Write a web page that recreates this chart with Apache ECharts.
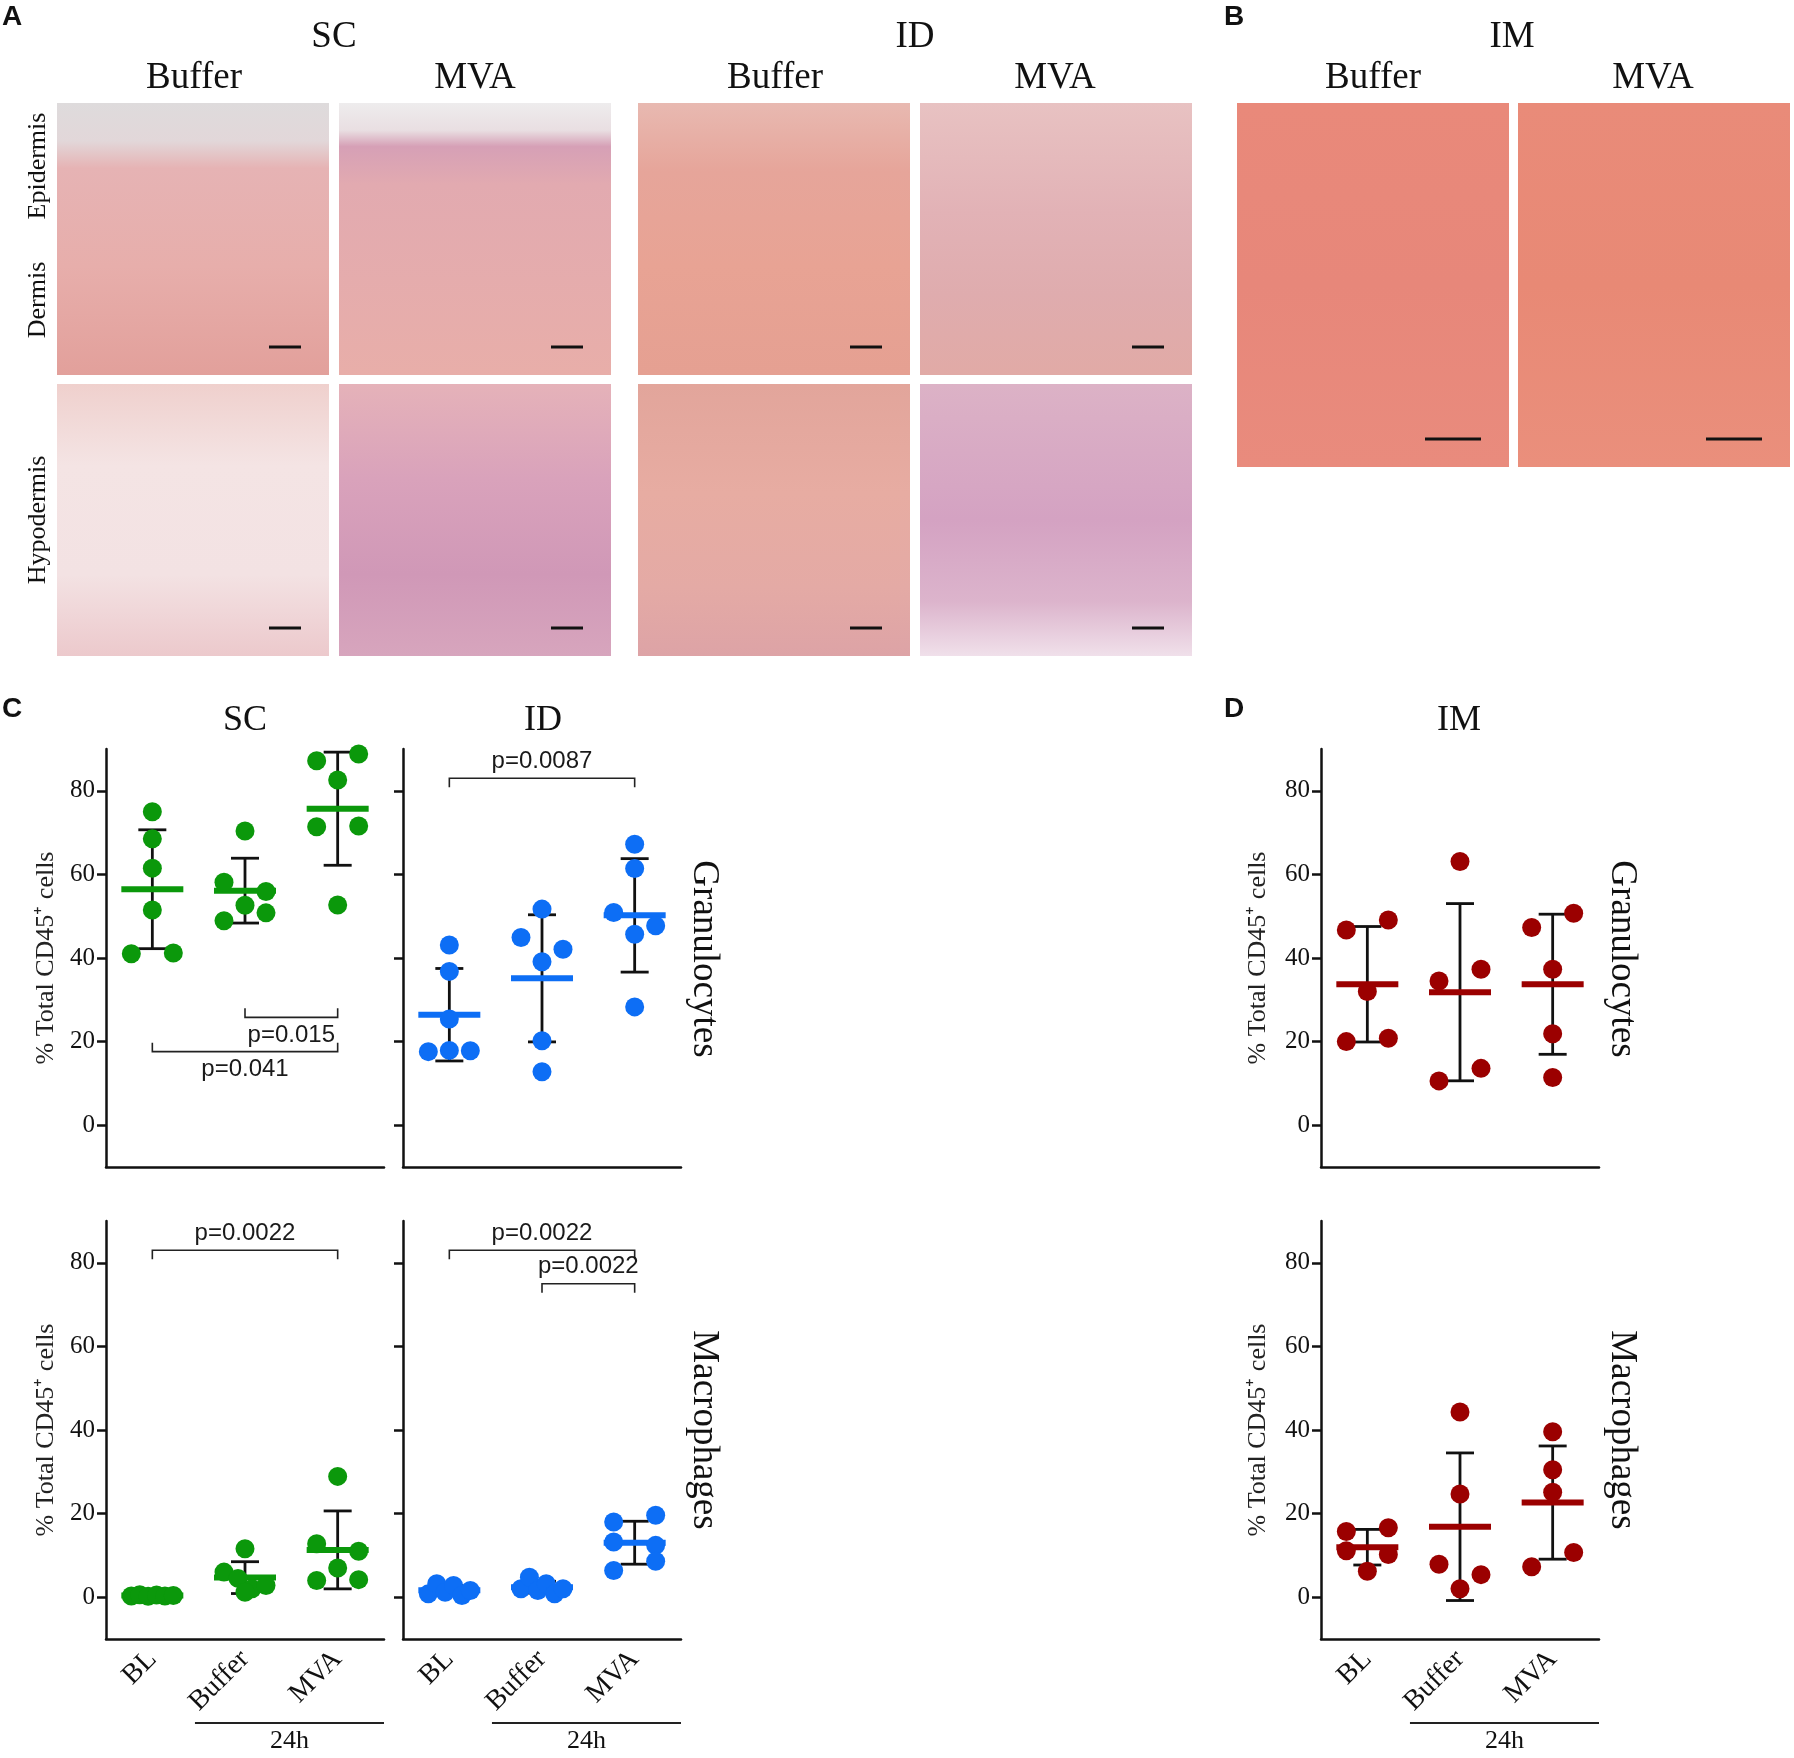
<!DOCTYPE html>
<html>
<head>
<meta charset="utf-8">
<script src="https://cdn.jsdelivr.net/npm/echarts@6.0.0/dist/echarts.min.js"></script>
<style>
html, body { margin: 0; padding: 0; background: #fff; }
#chart { width: 1794px; height: 1758px; }
</style>
</head>
<body>
<div id="chart"></div>
<script>
//Groups and y ticks shared by every panel
const groups = ["BL", "Buffer", "MVA"];
const yTicks = [0, 20, 40, 60, 80];

//% Total CD45+ cells - granulocytes
const scGranBL = [75.0, 68.5, 61.5, 51.5, 41.0, 41.2];
const scGranBuffer = [70.4, 58.1, 55.9, 48.9, 52.6, 50.8];
const scGranMVA = [87.2, 88.8, 82.6, 71.4, 71.6, 52.7];
const idGranBL = [43.1, 36.8, 25.4, 17.6, 17.9, 17.8];
const idGranBuffer = [51.7, 44.9, 42.1, 39.1, 20.2, 12.8];
const idGranMVA = [67.2, 61.4, 50.9, 47.7, 45.7, 28.3];
const imGranBL = [46.7, 49.1, 32.0, 20.0, 20.8];
const imGranBuffer = [63.1, 34.5, 37.3, 10.6, 13.6];
const imGranMVA = [47.3, 50.7, 37.3, 21.9, 11.4];

//% Total CD45+ cells - macrophages
const scMacBL = [0.3, 0.6, 0.2, 0.5, 0.3, 0.4];
const scMacBuffer = [11.6, 6.0, 4.5, 2.0, 2.8, 1.2];
const scMacMVA = [28.9, 12.8, 11.0, 4.0, 7.0, 4.2];
const idMacBL = [0.8, 3.2, 1.2, 2.8, 0.4, 1.6];
const idMacBuffer = [2.0, 4.8, 1.6, 3.2, 0.8, 2.0];
const idMacMVA = [18.0, 19.6, 13.2, 12.4, 6.4, 8.6];
const imMacBL = [15.7, 16.6, 11.1, 10.2, 6.2];
const imMacBuffer = [44.3, 24.7, 7.9, 5.4, 2.0];
const imMacMVA = [39.6, 30.5, 25.1, 7.3, 10.7];

//Significance brackets: [from, to, bracket height, label]
const scGranTests = [["Buffer", "MVA", 25.8, "p=0.015"], ["BL", "MVA", 17.6, "p=0.041"]];
const idGranTests = [["BL", "MVA", 83.0, "p=0.0087"]];
const scMacTests = [["BL", "MVA", 83.0, "p=0.0022"]];
const idMacTests = [["BL", "MVA", 83.0, "p=0.0022"], ["Buffer", "MVA", 75.0, "p=0.0022"]];

//Styling
const GREEN = "#0b980b";
const BLUE = "#0d6ef5";
const RED = "#9b0000";
const INK = "#111111";
const SERIF = "Liberation Serif";
const SANS = "Liberation Sans";
const GRID_W = 278;
const GRID_H = 418;
const Y_MIN = -10;
const Y_MAX = 90;
const DOT = 19;
const STEP = 21;
const PX_PER_UNIT = GRID_H / (Y_MAX - Y_MIN);

let panels = [
	{ left: 106, top: 749, color: GREEN, values: [scGranBL, scGranBuffer, scGranMVA], tests: scGranTests, yLabels: true, xLabels: false, nameGap: 47 },
	{ left: 403, top: 749, color: BLUE, values: [idGranBL, idGranBuffer, idGranMVA], tests: idGranTests, yLabels: false, xLabels: false, nameGap: 47 },
	{ left: 1321, top: 749, color: RED, values: [imGranBL, imGranBuffer, imGranMVA], tests: [], yLabels: true, xLabels: false, nameGap: 50 },
	{ left: 106, top: 1221, color: GREEN, values: [scMacBL, scMacBuffer, scMacMVA], tests: scMacTests, yLabels: true, xLabels: true, nameGap: 47 },
	{ left: 403, top: 1221, color: BLUE, values: [idMacBL, idMacBuffer, idMacMVA], tests: idMacTests, yLabels: false, xLabels: true, nameGap: 47 },
	{ left: 1321, top: 1221, color: RED, values: [imMacBL, imMacBuffer, imMacMVA], tests: [], yLabels: true, xLabels: true, nameGap: 50 }
];

function getMean (arr) {
	return arr.reduce((a, b) => a + b, 0)/arr.length;
}

function getSD (arr) {
	let mean = getMean(arr);
	return Math.sqrt(arr.reduce((a, b) => a + (b - mean)*(b - mean), 0)/(arr.length - 1));
}

//Spread dots that would overlap vertically into rows, centred on the group
function getSwarmOffsets (arr) {
	let order = arr.map((v, i) => i).sort((a, b) => arr[b] - arr[a]);
	let rows = [];
	let offsets = arr.map(() => 0);

	order.forEach((i) => {
		let row = rows[rows.length - 1];
		if (row && (arr[row[0]] - arr[i])*PX_PER_UNIT < DOT) {
			row.push(i);
		} else {
			rows.push([i]);
		}
	});
	rows.forEach((row) => {
		row.sort((a, b) => a - b);
		row.forEach((idx, k) => {
			offsets[idx] = (row.length === 1) ? 0 : -STEP + 2*STEP*k/(row.length - 1);
		});
	});

	return offsets;
}

let grids = [];
let xAxes = [];
let yAxes = [];
let series = [];

panels.forEach((panel, p) => {
	grids.push({ left: panel.left, top: panel.top, width: GRID_W, height: GRID_H });
	xAxes.push({
		gridIndex: p,
		type: "category",
		data: groups,
		axisLine: { onZero: false, lineStyle: { color: INK, width: 2.5 } },
		axisTick: { alignWithLabel: true, length: 9, lineStyle: { color: INK, width: 2.5 } },
		axisLabel: {
			show: panel.xLabels, rotate: 45, margin: 16, interval: 0,
			fontFamily: SERIF, fontSize: 28, color: INK
		},
		splitLine: { show: false }
	});
	yAxes.push({
		gridIndex: p,
		type: "value",
		min: Y_MIN,
		max: Y_MAX,
		interval: 10,
		name: (panel.yLabels) ? "% Total CD45\u207A cells" : "",
		nameLocation: "middle",
		nameGap: panel.nameGap,
		nameRotate: 90,
		nameTextStyle: { fontFamily: SERIF, fontSize: 26, color: "#222" },
		axisLine: { show: true, lineStyle: { color: INK, width: 2.5 } },
		axisTick: { show: true, customValues: yTicks, length: 9, lineStyle: { color: INK, width: 2.5 } },
		axisLabel: {
			show: panel.yLabels, margin: 11,
			fontFamily: SERIF, fontSize: 25, color: INK,
			formatter: (v) => (yTicks.indexOf(v) !== -1) ? String(v) : ""
		},
		splitLine: { show: false }
	});

	//Mean +/- SD
	series.push({
		type: "custom",
		xAxisIndex: p,
		yAxisIndex: p,
		z: 2,
		silent: true,
		data: panel.values.map((arr, g) => {
			let mean = getMean(arr);
			let sd = getSD(arr);
			return [g, mean, mean - sd, mean + sd];
		}),
		renderItem: (params, api) => {
			let g = api.value(0);
			let m = api.coord([g, api.value(1)]);
			let lo = api.coord([g, api.value(2)]);
			let hi = api.coord([g, api.value(3)]);
			let bar = { stroke: INK, lineWidth: 2.8 };

			return {
				type: "group",
				children: [
					{ type: "line", shape: { x1: m[0], y1: hi[1], x2: m[0], y2: lo[1] }, style: bar },
					{ type: "line", shape: { x1: m[0] - 14, y1: hi[1], x2: m[0] + 14, y2: hi[1] }, style: bar },
					{ type: "line", shape: { x1: m[0] - 14, y1: lo[1], x2: m[0] + 14, y2: lo[1] }, style: bar },
					{ type: "line", shape: { x1: m[0] - 31, y1: m[1], x2: m[0] + 31, y2: m[1] }, style: { stroke: panel.color, lineWidth: 6 } }
				]
			};
		}
	});

	//Individual animals
	let dots = [];
	panel.values.forEach((arr, g) => {
		let offsets = getSwarmOffsets(arr);
		arr.forEach((v, i) => dots.push({ value: [g, v], symbolOffset: [offsets[i], 0] }));
	});
	series.push({
		type: "scatter",
		xAxisIndex: p,
		yAxisIndex: p,
		z: 3,
		silent: true,
		symbol: "circle",
		symbolSize: DOT,
		itemStyle: { color: panel.color, opacity: 1 },
		data: dots
	});

	//Brackets with p values
	if (panel.tests.length) {
		let tests = panel.tests.map((t) => {
			let from = groups.indexOf(t[0]);
			let to = groups.indexOf(t[1]);
			let lowest_mean = Math.min(getMean(panel.values[from]), getMean(panel.values[to]));
			return { from: from, to: to, y: t[2], label: t[3], up: t[2] < lowest_mean };
		});
		series.push({
			type: "custom",
			xAxisIndex: p,
			yAxisIndex: p,
			z: 4,
			silent: true,
			data: tests.map((t) => [t.from, t.y]),
			renderItem: (params, api) => {
				let t = tests[params.dataIndex];
				let a = api.coord([t.from, t.y]);
				let b = api.coord([t.to, t.y]);
				let leg = (t.up) ? -9 : 9;

				return {
					type: "group",
					children: [
						{
							type: "polyline",
							shape: { points: [[a[0], a[1] + leg], [a[0], a[1]], [b[0], b[1]], [b[0], b[1] + leg]] },
							style: { stroke: "#222", lineWidth: 1.6, fill: null }
						},
						{
							type: "text",
							x: (a[0] + b[0])/2,
							y: (t.up) ? a[1] + 18 : a[1] - 17,
							style: {
								text: t.label, fill: "#1a1a1a", font: "24px " + SANS,
								align: "center", verticalAlign: "middle"
							}
						}
					]
				};
			}
		});
	}
});

//Histology panels are photographs: shown as flat tissue-coloured tiles
function tile (x, y, w, h, stops, barLength) {
	return [
		{
			type: "rect",
			shape: { x: x, y: y, width: w, height: h },
			style: { fill: new echarts.graphic.LinearGradient(0, 0, 0, 1, stops.map((s) => ({ offset: s[0], color: s[1] }))) },
			silent: true
		},
		{
			type: "line",
			shape: { x1: x + w - 28 - barLength, y1: y + h - 28, x2: x + w - 28, y2: y + h - 28 },
			style: { stroke: "#111", lineWidth: 3 },
			silent: true
		}
	];
}

function label (text, x, y, size, options) {
	let local_options = (options) ? options : {};
	return {
		type: "text",
		x: x,
		y: y,
		rotation: (local_options.rotation) ? local_options.rotation : 0,
		silent: true,
		style: {
			text: text,
			fill: INK,
			font: ((local_options.bold) ? "bold " : "") + size + "px '" + ((local_options.sans) ? SANS : SERIF) + "'",
			align: (local_options.align) ? local_options.align : "center",
			verticalAlign: "middle"
		}
	};
}

let elements = [].concat(
	tile(57, 103, 272, 272, [[0, "#dedbdc"], [0.14, "#e2d7d9"], [0.24, "#e6b3b4"], [0.6, "#e7aeab"], [1, "#e2a09b"]], 32),
	tile(339, 103, 272, 272, [[0, "#eeeced"], [0.1, "#e9dfe2"], [0.16, "#d6a0b6"], [0.3, "#e2aab0"], [1, "#e8aea9"]], 32),
	tile(57, 384, 272, 272, [[0, "#efd0cd"], [0.3, "#f4e4e4"], [0.7, "#f3e2e3"], [1, "#ecc9cc"]], 32),
	tile(339, 384, 272, 272, [[0, "#e5b2b9"], [0.35, "#d9a2bb"], [0.7, "#d098b7"], [1, "#d7a5bd"]], 32),
	tile(638, 103, 272, 272, [[0, "#e8b9b1"], [0.25, "#e6a59a"], [0.6, "#e8a394"], [1, "#e5a092"]], 32),
	tile(920, 103, 272, 272, [[0, "#e8c2c2"], [0.4, "#e2b2b6"], [0.7, "#dfacae"], [1, "#e1aaa6"]], 32),
	tile(638, 384, 272, 272, [[0, "#e2a59b"], [0.4, "#e7aca2"], [0.75, "#e4aaa5"], [1, "#dda3a6"]], 32),
	tile(920, 384, 272, 272, [[0, "#dcb2c6"], [0.5, "#d4a2c2"], [0.8, "#dcb4cc"], [1, "#f0e0ea"]], 32),
	tile(1237, 103, 272, 364, [[0, "#e9897a"], [0.5, "#e7877a"], [1, "#e98b7d"]], 56),
	tile(1518, 103, 272, 364, [[0, "#e98b79"], [0.5, "#e88975"], [1, "#ea8f7c"]], 56),
	[
		label("A", 2, 17, 28, { bold: true, sans: true, align: "left" }),
		label("SC", 334, 37, 37),
		label("ID", 915, 37, 37),
		label("Buffer", 194, 78, 37),
		label("MVA", 475, 78, 37),
		label("Buffer", 775, 78, 37),
		label("MVA", 1055, 78, 37),
		label("Epidermis", 38, 166, 26, { rotation: Math.PI/2 }),
		label("Dermis", 38, 300, 26, { rotation: Math.PI/2 }),
		label("Hypodermis", 38, 520, 26, { rotation: Math.PI/2 }),
		label("B", 1224, 17, 28, { bold: true, sans: true, align: "left" }),
		label("IM", 1512, 37, 37),
		label("Buffer", 1373, 78, 37),
		label("MVA", 1653, 78, 37),
		label("C", 2, 709, 28, { bold: true, sans: true, align: "left" }),
		label("SC", 245, 721, 36),
		label("ID", 543, 721, 36),
		label("Granulocytes", 704, 959, 37, { rotation: -Math.PI/2 }),
		label("Macrophages", 704, 1430, 37, { rotation: -Math.PI/2 }),
		label("D", 1224, 709, 28, { bold: true, sans: true, align: "left" }),
		label("IM", 1459, 721, 36),
		label("Granulocytes", 1622, 959, 37, { rotation: -Math.PI/2 }),
		label("Macrophages", 1622, 1430, 37, { rotation: -Math.PI/2 })
	]
);

//"24h" underline below Buffer and MVA
panels.slice(3).forEach((panel) => {
	let x1 = panel.left + GRID_W*0.32;
	let x2 = panel.left + GRID_W;
	elements.push({ type: "line", silent: true, shape: { x1: x1, y1: 1723, x2: x2, y2: 1723 }, style: { stroke: "#222", lineWidth: 2 } });
	elements.push(label("24h", (x1 + x2)/2, 1741, 26));
});

let chart = echarts.init(document.getElementById("chart"), null, { renderer: "canvas" });
chart.setOption({
	backgroundColor: "#ffffff",
	animation: false,
	grid: grids,
	xAxis: xAxes,
	yAxis: yAxes,
	series: series,
	graphic: { elements: elements }
});
</script>
</body>
</html>
